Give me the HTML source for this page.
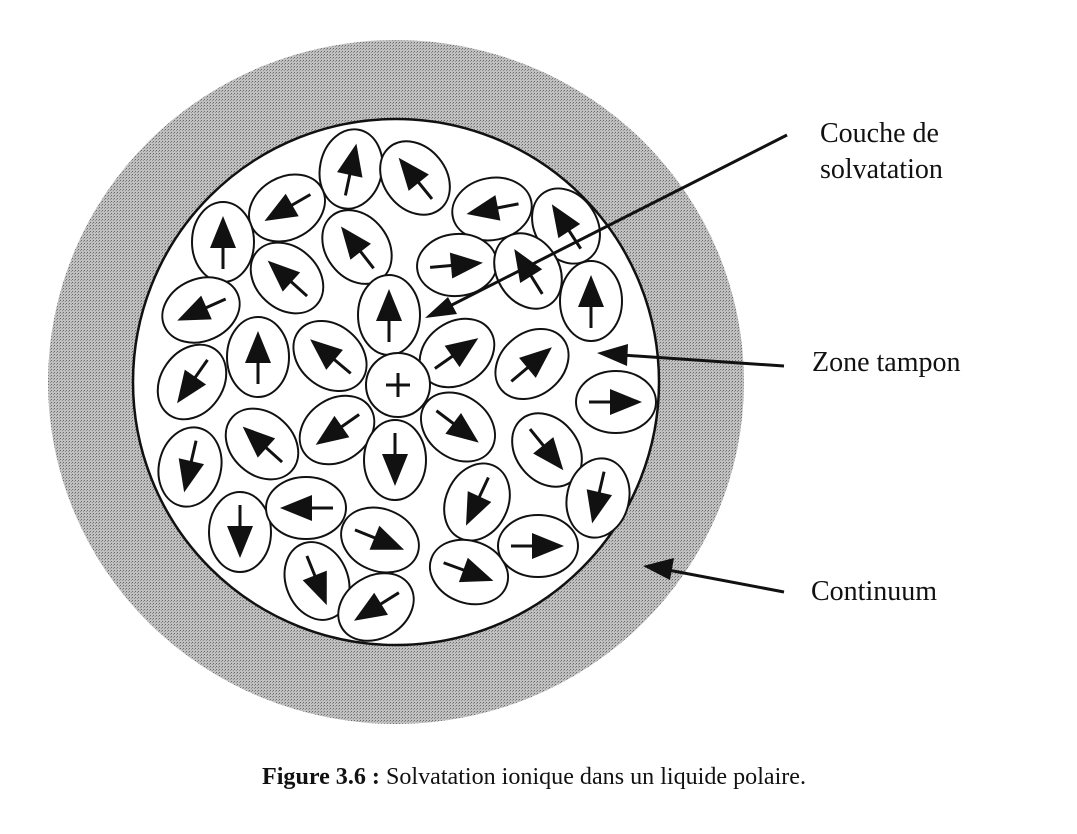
<!DOCTYPE html>
<html><head><style>
html,body{margin:0;padding:0;background:#fff;}
svg{display:block;}
text{font-family:"Liberation Serif",serif;fill:#111;}
</style></head><body>
<svg width="1077" height="834" viewBox="0 0 1077 834" xmlns="http://www.w3.org/2000/svg">
<defs>
<pattern id="dots" width="3" height="3" patternUnits="userSpaceOnUse">
<rect width="3" height="3" fill="#c0c0c0"/>
<rect x="0" y="0" width="1" height="1" fill="#6a6a6a"/>
<rect x="2" y="1" width="1" height="1" fill="#909090"/>
</pattern>
<g id="m">
<ellipse cx="0" cy="0" rx="40" ry="31" fill="#fff" stroke="#111" stroke-width="2"/>
<line x1="-27" y1="0" x2="0" y2="0" stroke="#111" stroke-width="3"/>
<polygon points="-6,-13 26,0 -6,13" fill="#111"/>
</g>
</defs>
<ellipse cx="396" cy="382" rx="348" ry="342" fill="url(#dots)"/>
<circle cx="396" cy="382" r="263" fill="#fff" stroke="#111" stroke-width="2.5"/>

<use href="#m" transform="translate(351,169) rotate(-78)"/>
<use href="#m" transform="translate(415,178) rotate(-129)"/>
<use href="#m" transform="translate(287,208) rotate(150)"/>
<use href="#m" transform="translate(492,209) rotate(169)"/>
<use href="#m" transform="translate(566,226) rotate(-123)"/>
<use href="#m" transform="translate(223,242) rotate(-90)"/>
<use href="#m" transform="translate(357,247) rotate(-128)"/>
<use href="#m" transform="translate(457,265) rotate(-5)"/>
<use href="#m" transform="translate(528,271) rotate(-122)"/>
<use href="#m" transform="translate(287,278) rotate(-138)"/>
<use href="#m" transform="translate(591,301) rotate(-90)"/>
<use href="#m" transform="translate(201,310) rotate(156)"/>
<use href="#m" transform="translate(389,315) rotate(-90)"/>
<use href="#m" transform="translate(258,357) rotate(-90)"/>
<use href="#m" transform="translate(330,356) rotate(-140)"/>
<use href="#m" transform="translate(457,353) rotate(-35)"/>
<use href="#m" transform="translate(532,364) rotate(-40)"/>
<use href="#m" transform="translate(616,402) rotate(0)"/>
<use href="#m" transform="translate(192,382) rotate(125)"/>
<use href="#m" transform="translate(190,467) rotate(103)"/>
<use href="#m" transform="translate(262,444) rotate(-138)"/>
<use href="#m" transform="translate(337,430) rotate(145)"/>
<use href="#m" transform="translate(395,460) rotate(90)"/>
<use href="#m" transform="translate(458,427) rotate(37)"/>
<use href="#m" transform="translate(547,450) rotate(51)"/>
<use href="#m" transform="translate(240,532) rotate(90)"/>
<use href="#m" transform="translate(306,508) rotate(180)"/>
<use href="#m" transform="translate(380,540) rotate(22)"/>
<use href="#m" transform="translate(477,502) rotate(115)"/>
<use href="#m" transform="translate(598,498) rotate(103)"/>
<use href="#m" transform="translate(317,581) rotate(68)"/>
<use href="#m" transform="translate(376,607) rotate(148)"/>
<use href="#m" transform="translate(469,572) rotate(20)"/>
<use href="#m" transform="translate(538,546) rotate(0)"/>

<circle cx="398" cy="385" r="32" fill="#fff" stroke="#111" stroke-width="2"/>
<line x1="386" y1="385" x2="410" y2="385" stroke="#111" stroke-width="3"/>
<line x1="398" y1="373" x2="398" y2="397" stroke="#111" stroke-width="3"/>

<line x1="787" y1="135" x2="440" y2="311" stroke="#111" stroke-width="3"/>
<polygon points="425,318 448,297 457,314" fill="#111"/>
<line x1="784" y1="366" x2="622" y2="355" stroke="#111" stroke-width="3"/>
<polygon points="597,353 628,344 627,366" fill="#111"/>
<line x1="784" y1="592" x2="668" y2="570" stroke="#111" stroke-width="3"/>
<polygon points="643,566 674,558 670,580" fill="#111"/>

<text x="820" y="142" font-size="28">Couche de</text>
<text x="820" y="178" font-size="28">solvatation</text>
<text x="812" y="371" font-size="28">Zone tampon</text>
<text x="811" y="600" font-size="28">Continuum</text>
<text x="262" y="784" font-size="24" textLength="544" lengthAdjust="spacingAndGlyphs"><tspan font-weight="bold">Figure 3.6 :</tspan> Solvatation ionique dans un liquide polaire.</text>
</svg>
</body></html>
